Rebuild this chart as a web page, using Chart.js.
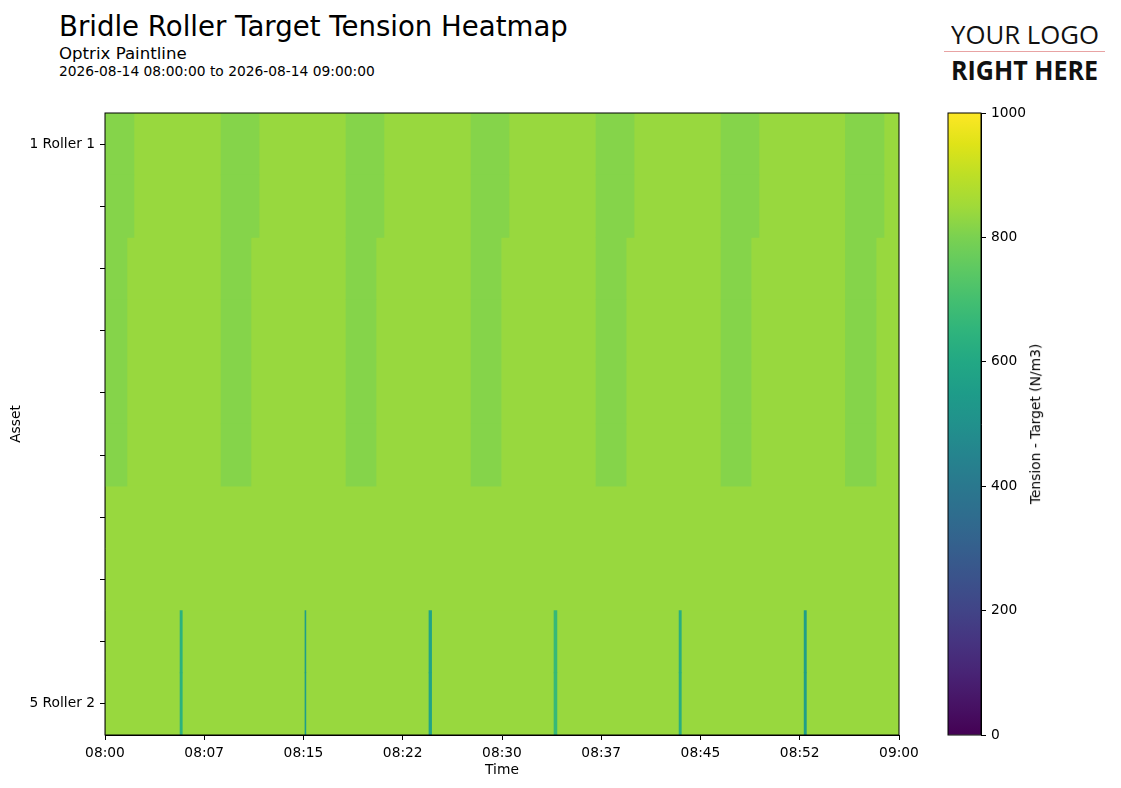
<!DOCTYPE html>
<html>
<head>
<meta charset="utf-8">
<title>Bridle Roller Target Tension Heatmap</title>
<script src="https://cdn.jsdelivr.net/npm/chart.js@4.4.1/dist/chart.umd.min.js"></script>
<style>
  body { margin: 0; background: #fff; width: 1121px; height: 788px; position: relative; overflow: hidden; font-family: "DejaVu Sans", sans-serif; }
  .txt { position: absolute; white-space: nowrap; line-height: 1; color: #000; }
  #mainChart { position: absolute; left: 0; top: 0; }
  #barChart { position: absolute; left: 930px; top: 0; }
  .logo { font-family: "Open Sans", sans-serif; transform-origin: left top; }
  #logoRule { position: absolute; left: 944px; top: 51px; width: 161px; height: 1px; background: #e8a3a3; }
</style>
</head>
<body>
<div class="txt" style="left:59px; top:12.5px; font-size:27.6px;">Bridle Roller Target Tension Heatmap</div>
<div class="txt" style="left:59px; top:46px; font-size:16.6px;">Optrix Paintline</div>
<div class="txt" style="left:59px; top:64.5px; font-size:13.8px;">2026-08-14 08:00:00 to 2026-08-14 09:00:00</div>

<div class="txt logo" id="logoTop" style="left:951px; top:21px; font-size:26px; color:#111;">YOUR LOGO</div>
<div id="logoRule"></div>
<div class="txt logo" id="logoBottom" style="left:951px; top:57px; font-size:26px; font-weight:bold; color:#111;">RIGHT HERE</div>

<canvas id="mainChart" width="929" height="788"></canvas>
<canvas id="barChart" width="191" height="788"></canvas>
<div class="txt" id="cbarLabel" style="left:1036px; top:424px; font-size:13.8px; transform: translate(-50%, -50%) rotate(-90deg);">Tension - Target (N/m3)</div>

<script>
// rows, top to bottom
const assets = ["1 Roller 1", "", "", "", "", "", "", "", "", "5 Roller 2"];
const timeTicks = ["08:00", "08:07", "08:15", "08:22", "08:30", "08:37", "08:45", "08:52", "09:00"];
const spanMinutes = 60;

// tension - target, N/m3
const baseTension = 840;
const stripeTension = 815;

// slower periods, minutes after 08:00
const stripeStart = [-0.68, 8.77, 18.21, 27.66, 37.10, 46.55, 55.95];
const stripeEndA = [2.19, 11.64, 21.08, 30.53, 39.98, 49.42, 58.87];
const stripeEndB = [1.66, 11.03, 20.48, 29.93, 39.38, 48.82, 58.27];
const stripeRowsA = [0, 1];
const stripeRowsB = [2, 3, 4, 5];

// short dips on the last rows
const dipStart = [5.67, 15.11, 24.48, 33.93, 43.38, 52.83];
const dipEnd = [5.84, 15.18, 24.68, 34.15, 43.55, 53.00];
const dipTension = [640, 560, 585, 670, 625, 560];
const dipRows = [8, 9];

const cbarTicks = [0, 200, 400, 600, 800, 1000];

const viridisStops = ["#440154", "#471365", "#482475", "#463480", "#414487", "#3b528b", "#355f8d",
  "#2f6c8e", "#2a788e", "#25848e", "#21918c", "#1e9c89", "#22a884", "#2fb47c", "#44bf70",
  "#5ec962", "#7ad151", "#a0da39", "#bddf26", "#dfe318", "#fde725"];

function hexRgb(h) {
  return [1, 3, 5].map(i => parseInt(h.substr(i, 2), 16));
}

function viridis(t) {
  t = Math.min(1, Math.max(0, t));
  const p = t * (viridisStops.length - 1);
  const i = Math.min(Math.floor(p), viridisStops.length - 2);
  const f = p - i;
  const a = hexRgb(viridisStops[i]), b = hexRgb(viridisStops[i + 1]);
  const c = a.map((v, k) => Math.round(v + (b[k] - v) * f));
  return `rgb(${c[0]},${c[1]},${c[2]})`;
}

const segments = [];
assets.forEach((_, r) => segments.push({ x: [0, spanMinutes], y: r, v: baseTension }));
stripeRowsA.forEach(r => stripeStart.forEach((s, i) => segments.push({ x: [s, stripeEndA[i]], y: r, v: stripeTension })));
stripeRowsB.forEach(r => stripeStart.forEach((s, i) => segments.push({ x: [s, stripeEndB[i]], y: r, v: stripeTension })));
dipRows.forEach(r => dipStart.forEach((s, i) => segments.push({ x: [s, dipEnd[i]], y: r, v: dipTension[i] })));

Chart.defaults.color = "#000";
Chart.defaults.font.family = "DejaVu Sans";
Chart.defaults.font.size = 13.8;

const frame = {
  id: "frame",
  afterDraw(chart) {
    const { ctx, chartArea: a } = chart;
    ctx.save();
    ctx.strokeStyle = "#000";
    ctx.lineWidth = 1;
    ctx.strokeRect(a.left, a.top, a.right - a.left, a.bottom - a.top);
    ctx.restore();
  }
};

const tickGrid = { drawOnChartArea: false, drawTicks: true, tickLength: 5, color: "#000", offset: false };

new Chart(document.getElementById("mainChart"), {
  type: "bar",
  data: {
    datasets: [{
      data: segments,
      backgroundColor: c => viridis(c.raw.v / 1000),
      borderWidth: 0,
      borderSkipped: false,
      barPercentage: 1,
      categoryPercentage: 1
    }]
  },
  options: {
    indexAxis: "y",
    responsive: false,
    animation: false,
    layout: { padding: { left: 0, right: 30, top: 113, bottom: 0 } },
    plugins: { legend: { display: false }, tooltip: { enabled: false } },
    scales: {
      x: {
        type: "linear",
        min: 0,
        max: spanMinutes,
        afterBuildTicks: s => { s.ticks = timeTicks.map((_, i) => ({ value: i * spanMinutes / (timeTicks.length - 1) })); },
        afterFit: s => { s.height = 53; },
        ticks: { callback: (v, i) => timeTicks[i], padding: 5, maxRotation: 0, autoSkip: false },
        grid: tickGrid,
        border: { display: true, color: "#000" },
        title: { display: true, text: "Time", padding: { top: 0, bottom: 9.7 } }
      },
      y: {
        type: "linear",
        offset: false,
        min: -0.5,
        max: assets.length - 0.5,
        reverse: true,
        afterBuildTicks: s => { s.ticks = assets.map((_, i) => ({ value: i })); },
        afterFit: s => { s.width = 105; },
        ticks: { callback: (v, i) => assets[i], padding: 5, autoSkip: false },
        grid: tickGrid,
        border: { display: true, color: "#000" },
        title: { display: true, text: "Asset", padding: { top: 7.7, bottom: 0 } }
      }
    }
  },
  plugins: [frame]
});

new Chart(document.getElementById("barChart"), {
  type: "bar",
  data: {
    labels: [""],
    datasets: [{
      data: [[cbarTicks[0], cbarTicks[cbarTicks.length - 1]]],
      backgroundColor: c => {
        const a = c.chart.chartArea;
        if (!a) return null;
        const g = c.chart.ctx.createLinearGradient(0, a.bottom, 0, a.top);
        viridisStops.forEach((col, i) => g.addColorStop(i / (viridisStops.length - 1), col));
        return g;
      },
      borderWidth: 0,
      barPercentage: 1,
      categoryPercentage: 1
    }]
  },
  options: {
    responsive: false,
    animation: false,
    layout: { padding: { left: 18, right: 0, top: 113, bottom: 53 } },
    plugins: { legend: { display: false }, tooltip: { enabled: false } },
    scales: {
      x: { display: false },
      y: {
        position: "right",
        min: cbarTicks[0],
        max: cbarTicks[cbarTicks.length - 1],
        afterBuildTicks: s => { s.ticks = cbarTicks.map(v => ({ value: v })); },
        afterFit: s => { s.width = 140; },
        ticks: { padding: 5, callback: v => String(v) },
        grid: tickGrid,
        border: { display: true, color: "#000" }
      }
    }
  },
  plugins: [frame]
});

// squeeze the logo words to the placeholder width
[["logoTop", 148], ["logoBottom", 147]].forEach(([id, w]) => {
  const el = document.getElementById(id);
  const r = el.getBoundingClientRect();
  el.style.transform = `scaleX(${w / r.width})`;
});
</script>
</body>
</html>
